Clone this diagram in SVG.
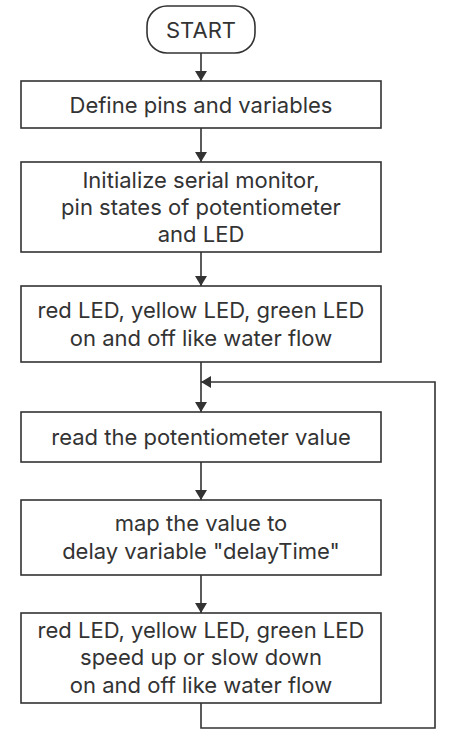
<svg xmlns="http://www.w3.org/2000/svg" width="453" height="736" viewBox="0 0 453 736">
<defs>
<marker id="arr" markerWidth="10" markerHeight="12" refX="10" refY="6" orient="auto" markerUnits="userSpaceOnUse">
<path d="M0,0 L10,6 L0,12 Z" fill="#333"/>
</marker>
<style>
.box{fill:#fff;stroke:#333;stroke-width:1.6}
.t{font-family:Inter,"Noto Sans",sans-serif;font-size:22px;fill:#333;text-anchor:middle}
.c{fill:none;stroke:#333;stroke-width:1.6}
</style>
</defs>
<rect width="453" height="736" fill="#fff"/>
<g id="connectors">
<line class="c" x1="201" y1="53" x2="201" y2="81" marker-end="url(#arr)"/>
<line class="c" x1="201" y1="128" x2="201" y2="162" marker-end="url(#arr)"/>
<line class="c" x1="201" y1="252" x2="201" y2="286" marker-end="url(#arr)"/>
<line class="c" x1="201" y1="362" x2="201" y2="412" marker-end="url(#arr)"/>
<line class="c" x1="201" y1="462" x2="201" y2="500" marker-end="url(#arr)"/>
<line class="c" x1="201" y1="575" x2="201" y2="613" marker-end="url(#arr)"/>
<polyline class="c" points="201,703 201,728 435,728 435,382 201,382" marker-end="url(#arr)"/>
</g>
<g id="start">
<rect class="box" x="147" y="6" width="108" height="47" rx="20" ry="20"/>
<text class="t" x="201" y="38">START</text>
</g>
<g id="define">
<rect class="box" x="21" y="81" width="360" height="47"/>
<text class="t" x="201" y="113">Define pins and variables</text>
</g>
<g id="init">
<rect class="box" x="21" y="162" width="360" height="90"/>
<text class="t" x="201" y="188">Initialize serial monitor,</text>
<text class="t" x="201" y="215">pin states of potentiometer</text>
<text class="t" x="201" y="242">and LED</text>
</g>
<g id="flow1">
<rect class="box" x="21" y="286" width="360" height="76"/>
<text class="t" x="201" y="318">red LED, yellow LED, green LED</text>
<text class="t" x="201" y="346">on and off like water flow</text>
</g>
<g id="read">
<rect class="box" x="21" y="412" width="360" height="50"/>
<text class="t" x="201" y="445">read the potentiometer value</text>
</g>
<g id="map">
<rect class="box" x="21" y="500" width="360" height="75"/>
<text class="t" x="201" y="531">map the value to</text>
<text class="t" x="201" y="559">delay variable "delayTime"</text>
</g>
<g id="flow2">
<rect class="box" x="21" y="613" width="360" height="90"/>
<text class="t" x="201" y="638">red LED, yellow LED, green LED</text>
<text class="t" x="201" y="665">speed up or slow down</text>
<text class="t" x="201" y="693">on and off like water flow</text>
</g>
</svg>
